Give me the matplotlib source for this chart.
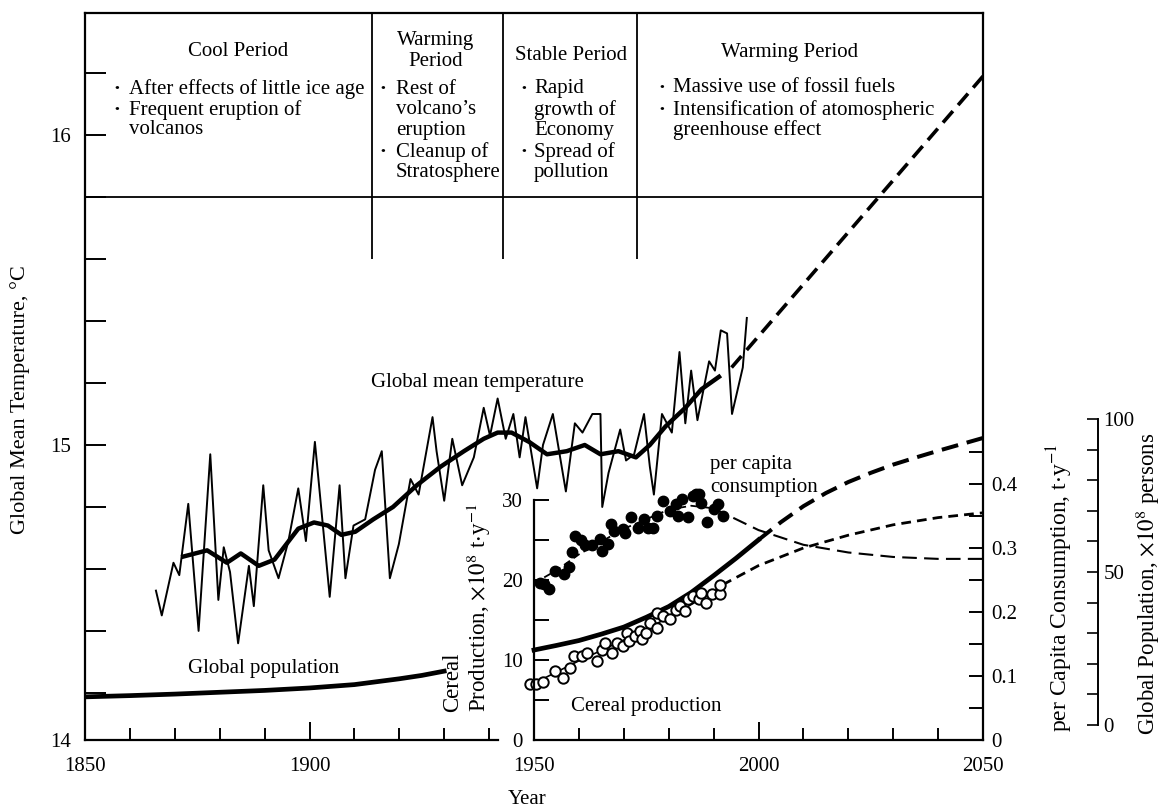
import matplotlib
matplotlib.use('Agg')
import matplotlib.pyplot as plt

W, H = 1165, 811
plt.rcParams['font.family'] = ['Liberation Serif', 'Noto Sans CJK JP', 'DejaVu Sans']
plt.rcParams['mathtext.fontset'] = 'stix'
FS = 15

# ---------------- data ----------------
temp_years = [1865.8, 1867.1, 1869.7, 1871.0, 1873.0, 1875.3, 1877.9, 1879.7, 1880.9, 1882.3,
              1884.1, 1886.5, 1887.6, 1889.7, 1890.9, 1893.1, 1895.3, 1897.5, 1899.2, 1901.2,
              1904.5, 1906.7, 1908.0, 1909.8, 1912.4, 1914.6, 1916.1, 1917.9, 1919.9, 1922.5,
              1924.3, 1927.4, 1928.3, 1930.0, 1931.8, 1934.0, 1936.6, 1938.8, 1940.2, 1941.9,
              1943.7, 1945.4, 1946.8, 1948.1, 1950.7, 1952.0, 1954.2, 1956.4, 1957.1, 1959.1,
              1960.8, 1963.0, 1964.8, 1965.2, 1966.6, 1969.2, 1970.5, 1972.3, 1974.5, 1975.8,
              1976.7, 1978.5, 1980.7, 1982.4, 1983.7, 1985.0, 1986.4, 1989.0, 1990.3, 1991.6,
              1993.0, 1994.1, 1996.5, 1997.4]
temp_values = [14.53, 14.45, 14.62, 14.58, 14.81, 14.40, 14.97, 14.50, 14.67, 14.59,
               14.36, 14.61, 14.48, 14.87, 14.66, 14.57, 14.69, 14.86, 14.69, 15.01,
               14.51, 14.87, 14.57, 14.74, 14.76, 14.92, 14.98, 14.57, 14.68, 14.89,
               14.84, 15.09, 14.98, 14.82, 15.02, 14.87, 14.96, 15.12, 15.03, 15.15,
               15.02, 15.10, 14.96, 15.09, 14.86, 15.00, 15.10, 14.91, 14.85, 15.07,
               15.04, 15.10, 15.10, 14.80, 14.91, 15.05, 14.95, 14.97, 15.10, 14.93,
               14.84, 15.10, 15.04, 15.30, 15.07, 15.24, 15.08, 15.27, 15.24, 15.37,
               15.36, 15.10, 15.25, 15.41]

smooth_years = [1871.9, 1877.2, 1881.6, 1884.7, 1888.7, 1892.2, 1897.5, 1901.0, 1904.1, 1907.1,
                1910.2, 1914.2, 1918.6, 1923.9, 1929.2, 1934.4, 1938.8, 1941.9, 1945.0, 1948.9,
                1952.9, 1957.3, 1961.3, 1964.8, 1968.8, 1972.7, 1975.8, 1979.3, 1983.7, 1987.3,
                1991.2]
smooth_values = [14.64, 14.66, 14.62, 14.65, 14.61, 14.63, 14.73, 14.75, 14.74, 14.71,
                 14.72, 14.76, 14.80, 14.87, 14.93, 14.98, 15.02, 15.04, 15.04, 15.01,
                 14.97, 14.98, 15.00, 14.97, 14.98, 14.96, 15.00, 15.06, 15.12, 15.18,
                 15.22]

temp_proj_years = [1994, 2050]
temp_proj_values = [15.25, 16.19]

pop_hist_years = [1850, 1860, 1870, 1880, 1890, 1900, 1910, 1920, 1925, 1930]
pop_hist_values = [9.2, 9.6, 10.1, 10.7, 11.3, 12.1, 13.2, 15.1, 16.2, 17.6]
pop_years = [1950, 1955, 1960, 1965, 1970, 1975, 1980, 1985, 1990, 1995, 2000]
pop_values = [24.5, 26.0, 27.6, 29.7, 32.0, 35.2, 38.7, 43.3, 48.8, 54.5, 60.5]
pop_proj_years = [2000, 2005, 2010, 2015, 2020, 2025, 2030, 2035, 2040, 2045, 2050]
pop_proj_values = [60.5, 66.3, 71.5, 75.8, 79.4, 82.4, 85.1, 87.4, 89.6, 91.7, 93.8]

cereal_years = [1949.0, 1950.4, 1951.9, 1954.7, 1956.4, 1958.0, 1959.0, 1960.8, 1961.8, 1964.1,
                1965.1, 1965.8, 1967.4, 1968.4, 1969.8, 1970.7, 1971.2, 1972.6, 1973.6, 1974.0,
                1975.0, 1975.9, 1977.3, 1977.5, 1978.7, 1980.2, 1981.6, 1982.5, 1983.7, 1984.4,
                1985.4, 1986.8, 1987.2, 1988.2, 1989.6, 1991.5, 1991.5]
cereal_values = [7.0, 7.0, 7.2, 8.6, 7.8, 9.0, 10.5, 10.5, 10.9, 9.9,
                 11.3, 12.1, 10.9, 12.1, 11.7, 13.4, 12.4, 13.0, 13.6, 12.6,
                 13.4, 14.6, 14.0, 15.9, 15.5, 15.1, 16.3, 16.7, 16.1, 17.6,
                 18.0, 17.6, 18.4, 17.1, 18.2, 18.2, 19.4]
cereal_trend_years = [1949, 1960, 1970, 1980, 1992]
cereal_trend_values = [6.8, 9.9, 12.5, 15.3, 19.2]
cereal_proj_years = [1992, 2000, 2010, 2020, 2030, 2040, 2050]
cereal_proj_values = [19.4, 21.8, 24.0, 25.6, 26.9, 27.8, 28.4]

percap_years = [1951.4, 1952.3, 1953.3, 1954.7, 1956.6, 1957.7, 1958.5, 1959.2, 1960.4, 1961.3,
                1963.0, 1964.6, 1965.1, 1966.5, 1967.1, 1967.9, 1969.8, 1970.3, 1971.7, 1973.1,
                1974.5, 1975.4, 1976.4, 1977.3, 1978.7, 1980.2, 1981.6, 1982.1, 1983.0, 1984.4,
                1985.4, 1986.0, 1986.8, 1987.2, 1988.6, 1990.1, 1991.0, 1992.0]
percap_values = [0.246, 0.244, 0.236, 0.264, 0.259, 0.270, 0.293, 0.319, 0.312, 0.304,
                 0.304, 0.314, 0.296, 0.306, 0.338, 0.327, 0.330, 0.324, 0.348, 0.332,
                 0.345, 0.332, 0.332, 0.350, 0.374, 0.358, 0.369, 0.350, 0.377, 0.348,
                 0.382, 0.384, 0.384, 0.371, 0.340, 0.361, 0.369, 0.350]
percap_trend_years = [1950, 1955, 1960, 1965, 1970, 1975, 1980, 1985, 1990]
percap_trend_values = [0.245, 0.265, 0.290, 0.310, 0.330, 0.345, 0.360, 0.366, 0.362]
percap_proj_years = [1990, 1995, 2000, 2010, 2020, 2030, 2040, 2050]
percap_proj_values = [0.362, 0.345, 0.328, 0.305, 0.293, 0.286, 0.283, 0.283]

period_bounds = [1914, 1943, 1973]

# ---------------- layout helpers ----------------
fig = plt.figure(figsize=(W / 100, H / 100), dpi=100)


def box(x0, y0, x1, y1):
    return [x0 / W, 1 - y1 / H, (x1 - x0) / W, (y1 - y0) / H]


def T(x, y, s, **kw):
    kw.setdefault('fontsize', FS)
    kw.setdefault('va', 'center')
    return fig.text(x / W, 1 - y / H, s, **kw)


TBOT, TTOP = 14.048, 16.394

# main temperature axes
ax = fig.add_axes(box(85, 13, 983, 740))
ax.set_xlim(1850, 2050)
ax.set_ylim(TBOT, TTOP)
ax.spines['right'].set_visible(False)
ax.spines['bottom'].set_bounds(1850, 1942)
for s in ax.spines.values():
    s.set_linewidth(1.6)
ax.set_xticks([1850, 1900])
ax.set_xticklabels(['1850', '1900'])
ax.set_xticks([1860, 1870, 1880, 1890, 1910, 1920, 1930, 1940], minor=True)
ax.tick_params(axis='x', which='major', direction='in', length=13, width=1.4, pad=12, labelsize=FS)
ax.tick_params(axis='x', which='minor', direction='in', length=8.5, width=1.4)
ax.set_yticks([TBOT, 15, 16])
ax.set_yticklabels(['14', '15', '16'])
ax.set_yticks([14.2, 14.4, 14.6, 14.8, 15.2, 15.4, 15.6, 15.8, 16.2], minor=True)
ax.tick_params(axis='y', which='both', direction='in', length=15, width=1.4, pad=10, labelsize=FS)

ax.plot(temp_years, temp_values, color='k', lw=1.4)
ax.plot(smooth_years, smooth_values, color='k', lw=3.2)
ax.plot(temp_proj_years, temp_proj_values, color='k', lw=2.6, ls=(0, (4.2, 2.2)))
ax.vlines(period_bounds, 15.6, TTOP, color='k', lw=1.3)
ax.axhline(15.8, color='k', lw=1.3)

# population axes (full frame, own spine further right)
axp = fig.add_axes(box(85, 13, 983, 740), facecolor='none')
axp.set_xlim(1850, 2050)
axp.set_ylim((725 - 740) / 3.06, (725 - 13) / 3.06)
for k in ['left', 'top', 'bottom']:
    axp.spines[k].set_visible(False)
axp.spines['right'].set_position(('axes', (1098 - 85) / 898))
axp.spines['right'].set_bounds(0, 100)
axp.spines['right'].set_linewidth(1.4)
axp.set_xticks([])
axp.yaxis.tick_right()
axp.set_yticks([0, 50, 100])
axp.set_yticks(range(10, 100, 10), minor=True)
axp.tick_params(axis='y', which='both', direction='in', length=8, width=1.2, pad=4, labelsize=FS)
axp.plot(pop_hist_years, pop_hist_values, color='k', lw=3.4)
axp.plot(pop_years, pop_values, color='k', lw=3.4)
axp.plot(pop_proj_years, pop_proj_values, color='k', lw=2.9, ls=(0, (4.2, 2.2)))

# cereal inset
ax2 = fig.add_axes(box(534, 500, 983, 740), facecolor='none')
ax2.set_xlim(1950, 2050)
ax2.set_ylim(0, 30)
ax2.spines['top'].set_visible(False)
ax2.spines['right'].set_visible(False)
for s in ax2.spines.values():
    s.set_linewidth(1.6)
ax2.set_xticks([1950, 2000, 2050])
ax2.set_xticks([1960, 1970, 1980, 1990, 2010, 2020, 2030, 2040], minor=True)
ax2.tick_params(axis='x', which='major', direction='in', length=13, width=1.4, pad=12, labelsize=FS)
ax2.tick_params(axis='x', which='minor', direction='in', length=8.5, width=1.4)
ax2.set_yticks([0, 10, 20, 30])
ax2.set_yticks([5, 15, 25], minor=True)
ax2.tick_params(axis='y', which='both', direction='in', length=11, width=1.4, pad=8, labelsize=FS)
ax2.plot(cereal_trend_years, cereal_trend_values, color='k', lw=1.2)
ax2.plot(cereal_proj_years, cereal_proj_values, color='k', lw=2.0, ls=(0, (3.5, 2.2)))
ax2.plot(cereal_years, cereal_values, 'o', ms=7.5, mfc='white', mec='k', mew=1.4, clip_on=False)

# per capita axes (full height right spine)
ax3 = fig.add_axes(box(534, 13, 983, 740), facecolor='none')
ax3.set_xlim(1950, 2050)
ax3.set_ylim(0, 727 / 640)
for k in ['left', 'top', 'bottom']:
    ax3.spines[k].set_visible(False)
ax3.spines['right'].set_linewidth(1.6)
ax3.set_xticks([])
ax3.yaxis.tick_right()
ax3.set_yticks([0, 0.1, 0.2, 0.3, 0.4])
ax3.set_yticklabels(['0', '0.1', '0.2', '0.3', '0.4'])
ax3.set_yticks([0.05, 0.15, 0.25, 0.35, 0.45], minor=True)
ax3.tick_params(axis='y', which='both', direction='in', length=10, width=1.4, pad=6, labelsize=FS)
ax3.plot(percap_trend_years, percap_trend_values, color='k', lw=1.3, ls=(0, (4, 2.5)))
ax3.plot(percap_proj_years, percap_proj_values, color='k', lw=1.5, ls=(0, (7, 3.5)))
ax3.plot(percap_years, percap_values, 'o', ms=7.5, color='k', clip_on=False)

# ---------------- texts ----------------
T(238, 52, 'Cool Period', ha='center')
T(436, 41, 'Warming', ha='center')
T(436, 62, 'Period', ha='center')
T(571, 55, 'Stable Period', ha='center')
T(790, 52, 'Warming Period', ha='center')

blocks = [
    (117, 129, [(89, True, 'After effects of little ice age'), (110, True, 'Frequent eruption of'),
                (130, False, 'volcanos')]),
    (383, 396, [(89, True, 'Rest of'), (110, False, 'volcano\u2019s'), (130, False, 'eruption'),
                (152, True, 'Cleanup of'), (173, False, 'Stratosphere')]),
    (524, 534, [(89, True, 'Rapid'), (110, False, 'growth of'), (130, False, 'Economy'),
                (152, True, 'Spread of'), (173, False, 'pollution')]),
    (662, 673, [(88, True, 'Massive use of fossil fuels'), (110, True, 'Intensification of atomospheric'),
                (130, False, 'greenhouse effect')]),
]
for bx, tx, lines in blocks:
    for y, bullet, s in lines:
        if bullet:
            T(bx, y, '\u30fb', ha='center', fontsize=FS - 3)
        T(tx, y, s, ha='left')

T(371, 382, 'Global mean temperature', ha='left')
T(188, 668, 'Global population', ha='left')
T(710, 465, 'per capita', ha='left')
T(710, 488, 'consumption', ha='left')
T(571, 707, 'Cereal production', ha='left')
T(527, 800, 'Year', ha='center')

T(20, 400, 'Global Mean Temperature, \u00b0C', ha='center', rotation=90, fontsize=16)
T(453, 712, 'Cereal', ha='center', va='bottom', rotation=90, fontsize=16.5)
T(479, 712, r'Production, $\times 10^{8}$ t$\cdot$y$^{-1}$', ha='center', va='bottom', rotation=90,
  fontsize=16.5)
T(1060, 588, r'per Capita Consumption, t$\cdot$y$^{-1}$', ha='center', rotation=90, fontsize=17)
T(1148, 584, r'Global Population, $\times 10^{8}$ persons', ha='center', rotation=90, fontsize=16.5)

fig.savefig('out.png', dpi=100)
